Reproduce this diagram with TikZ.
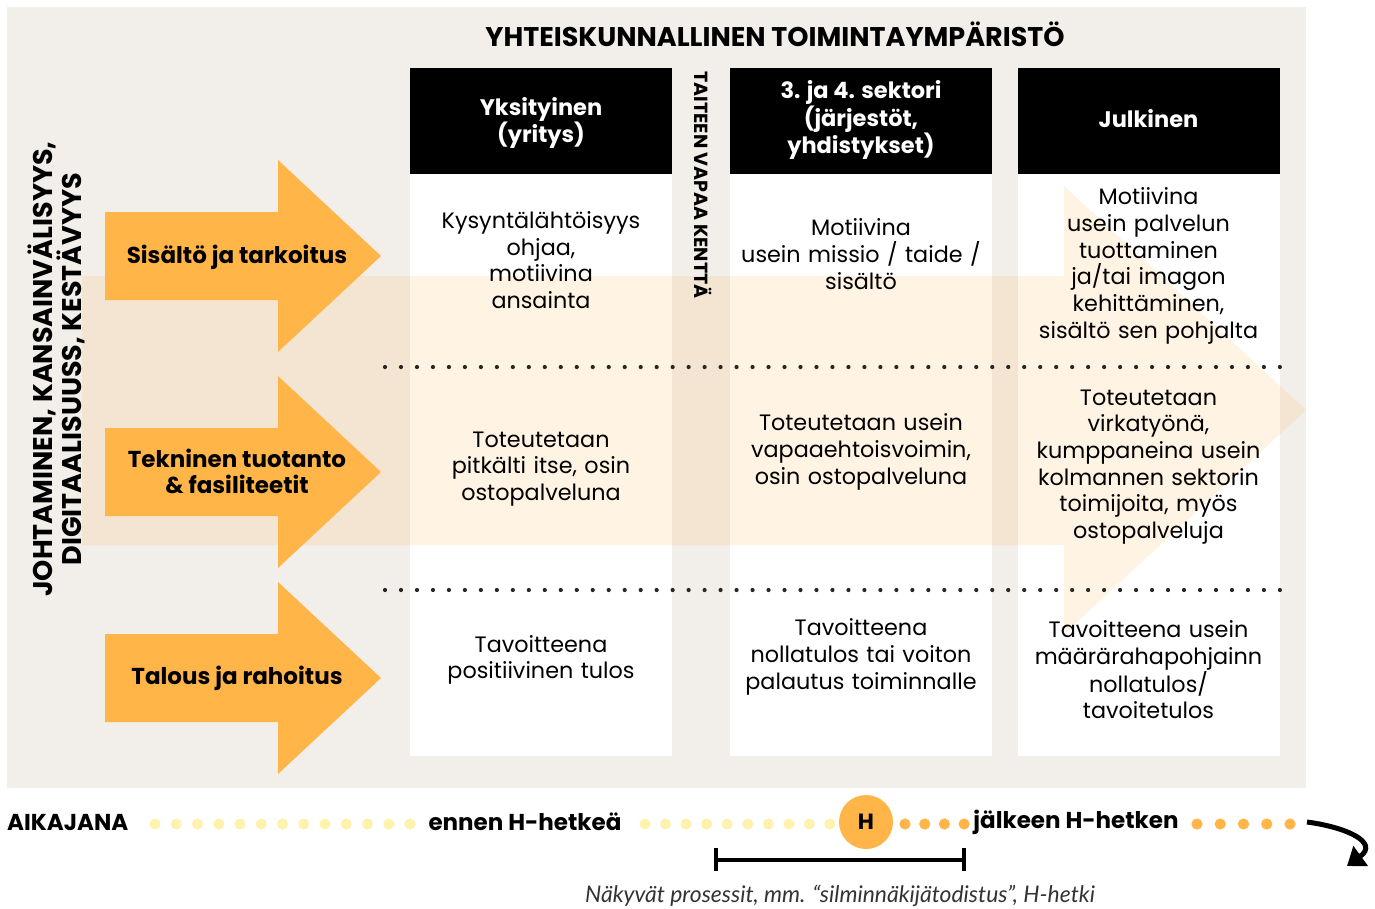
\documentclass[tikz,border=0pt]{standalone}
\usepackage{fontspec}
\setmainfont{Poppins}
\newfontfamily\capfont{Lato}
\usetikzlibrary{arrows.meta}
\definecolor{bgc}{HTML}{F2EEE9}
\definecolor{orng}{HTML}{FFB548}
\definecolor{ylw}{HTML}{FFF2AE}
\definecolor{captc}{HTML}{333333}
\begin{document}
\begin{tikzpicture}[x=1pt,y=-1pt,
  cellbg/.style={fill=white, draw=none, minimum width=262pt, minimum height=582pt, inner sep=0pt},
  hdrbox/.style={fill=black, draw=none, minimum width=262pt, minimum height=106pt, inner sep=0pt},
  hdr/.style={text=white, inner sep=0pt, align=center, font=\bfseries\fontsize{22.5}{26.5}\selectfont},
  cell/.style={align=center, text width=258pt, inner sep=0pt, font=\fontsize{22.3}{26.7}\selectfont},
  lbl/.style={align=center, inner sep=0pt, font=\bfseries\fontsize{23}{26}\selectfont},
  tl/.style={inner sep=0pt, font=\bfseries\fontsize{23}{24}\selectfont},
  blackdot/.style={fill=black!85},
]
\useasboundingbox (0,0) rectangle (1375,908);
\fill[bgc] (7,7) rectangle (1306,788);

% columns
\node[cellbg] (c1) at (541,465) {};
\node[cellbg] (c2) at (861,465) {};
\node[cellbg] (c3) at (1148.5,465) {};
\node[hdrbox] (hb1) at (541,121) {};
\node[hdrbox] (hb2) at (861,121) {};
\node[hdrbox] (hb3) at (1148.5,121) {};
\node[hdr] (h1) at (541,123) {Yksityinen\\(yritys)};
\node[hdr] (h2) at (861,120) {3. ja 4. sektori\\(järjestöt,\\yhdistykset)};
\node[hdr] (h3) at (1148.5,119) {Julkinen};

% big light arrow
\fill[orng, opacity=0.15] (82,276) -- (1064,276) -- (1064,186) -- (1306,410) -- (1064,634) -- (1064,545) -- (82,545) -- cycle;

% orange arrows
\foreach \c in {256,472,678} {
  \fill[orng] (105,\c-44) -- (278,\c-44) -- (278,\c-96) -- (381,\c) -- (278,\c+96) -- (278,\c+44) -- (105,\c+44) -- cycle;
}
\node[lbl] (l1) at (237,257) {Sisältö ja tarkoitus};
\node[lbl] (l2) at (237,471) {Tekninen tuotanto\\\& fasiliteetit};
\node[lbl] (l3) at (237,678) {Talous ja rahoitus};

% dotted separators
\foreach \i in {0,...,56} {
  \fill[blackdot] (385+\i*15.98,367) circle (2.1);
  \fill[blackdot] (385+\i*15.98,590) circle (2.1);
}

% titles
\node[inner sep=0pt, font=\bfseries\fontsize{27}{28}\selectfont] (title) at (775,34) {YHTEISKUNNALLINEN TOIMINTAYMPÄRISTÖ};
\node[rotate=90, align=center, inner sep=0pt, font=\bfseries\fontsize{27}{25}\selectfont] (side) at (56,369) {JOHTAMINEN, KANSAINVÄLISYYS,\\DIGITAALISUUSS, KESTÄVYYS};
\node[rotate=-90, inner sep=0pt, font=\bfseries\fontsize{19}{20}\selectfont] (free) at (703,185) {TAITEEN VAPAA KENTTÄ};

% cell texts
\node[cell] (t11) at (541,260) {Kysyntälähtöisyys\\ohjaa,\\motiivina\\ansainta};
\node[cell] (t12) at (861,254) {Motiivina\\usein missio / taide /\\sisältö};
\node[cell] (t13) at (1148.5,266) {Motiivina\\usein palvelun\\tuottaminen\\ja/tai imagon\\kehittäminen,\\sisältö sen pohjalta};
\node[cell] (t21) at (541,469) {Toteutetaan\\pitkälti itse, osin\\ostopalveluna};
\node[cell] (t22) at (861,452) {Toteutetaan usein\\vapaaehtoisvoimin,\\osin ostopalveluna};
\node[cell] (t23) at (1148.5,467) {Toteutetaan\\virkatyönä,\\kumppaneina usein\\kolmannen sektorin\\toimijoita, myös\\ostopalveluja};
\node[cell] (t31) at (541,660) {Tavoitteena\\positiivinen tulos};
\node[cell] (t32) at (861,657) {Tavoitteena\\nollatulos tai voiton\\palautus toiminnalle};
\node[cell] (t33) at (1148.5,670) {Tavoitteena usein\\määrärahapohjainn\\nollatulos/\\tavoitetulos};

% timeline
\node[tl, anchor=west] (aika) at (7,822) {AIKAJANA};
\foreach \i in {0,...,12} { \fill[ylw] (155+\i*21.25,824) circle (5.6); }
\node[tl] (ennen) at (525,822) {ennen H-hetkeä};
\foreach \i in {0,...,9} { \fill[ylw] (645+\i*20.55,824) circle (5.6); }
\node[circle, fill=orng, minimum size=54pt, inner sep=0pt, font=\bfseries\fontsize{22}{24}\selectfont] (hc) at (866,822) {H};
\foreach \i in {0,...,3} { \fill[orng] (905+\i*19.7,824) circle (5.6); }
\node[tl] (jalk) at (1076,822) {jälkeen H-hetken};
\foreach \i in {0,...,4} { \fill[orng] (1197+\i*23.25,824) circle (5.6); }

% scale bar
\coordinate (sbl) at (716,860);
\coordinate (sbr) at (964,860);
\draw[line width=4pt] (sbl) -- (sbr);
\draw[line width=4pt] ([yshift=-11pt]sbl) -- ([yshift=12pt]sbl);
\draw[line width=4pt] ([yshift=-11pt]sbr) -- ([yshift=12pt]sbr);
\node[inner sep=0pt, text=captc, font=\capfont\itshape\fontsize{22.9}{24}\selectfont] (cap) at (840,896) {Näkyvät prosessit, mm. “silminnäkijätodistus”, H-hetki};

% curved arrow
\coordinate (cs) at (1307,822);
\coordinate (ce) at (1347,866);
\draw[line width=5pt, -{Triangle[length=17pt,width=24pt]}] (cs) .. controls (1345,827) and (1380,842) .. (ce);
\end{tikzpicture}
\end{document}
